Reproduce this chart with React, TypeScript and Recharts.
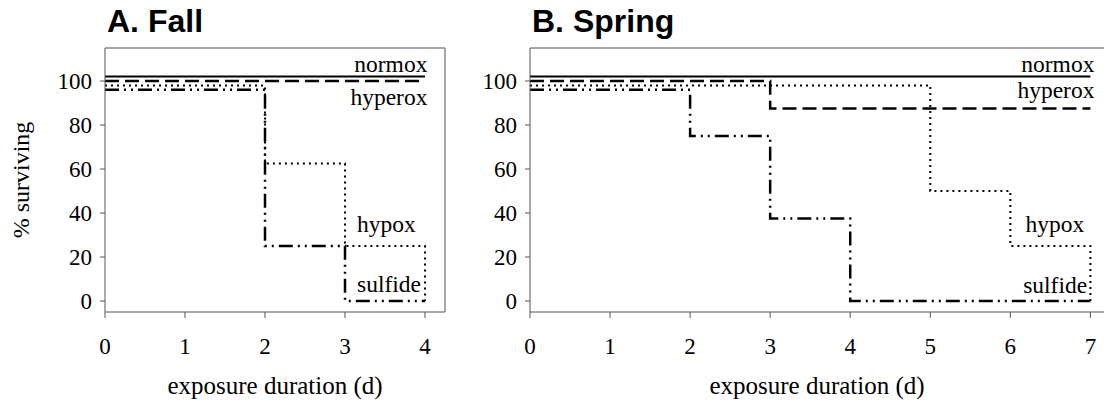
import { LineChart, Line, XAxis, YAxis, ReferenceLine, ReferenceDot } from "recharts";

// days of exposure
const fallDays = [0, 1, 2, 3, 4];
const springDays = [0, 1, 2, 3, 4, 5, 6, 7];

// % surviving, step values (top lines nudged apart so they stay visible)
const fallNormox = [102, 102, 102, 102, 102];
const fallHyperox = [100, 100, 100, 100, 100];
const fallHypox = [98, 98, 62.5, 25, 0];
const fallSulfide = [96, 96, 25, 0, 0];

const springNormox = [102, 102, 102, 102, 102, 102, 102, 102];
const springHyperox = [100, 100, 100, 87.5, 87.5, 87.5, 87.5, 87.5];
const springHypox = [98, 98, 98, 98, 98, 50, 25, 0];
const springSulfide = [96, 96, 75, 37.5, 0, 0, 0, 0];

const yTicks = [0, 20, 40, 60, 80, 100];
const fallTicks = [0, 1, 2, 3, 4];
const springTicks = [0, 1, 2, 3, 4, 5, 6, 7];

const SERIF = "Liberation Serif";
const AXIS = "#555";
const BOX = "#888";
const tickStyle = { fill: "#000", fontSize: 23, fontFamily: SERIF };
const axisTitle = { fill: "#000", fontSize: 25, fontFamily: SERIF };

const toRows = (days: number[], n: number[], h: number[], hy: number[], s: number[]) =>
  days.map((d, i) => ({ day: d, normox: n[i], hyperox: h[i], hypox: hy[i], sulfide: s[i] }));

const fallData = toRows(fallDays, fallNormox, fallHyperox, fallHypox, fallSulfide);
const springData = toRows(springDays, springNormox, springHyperox, springHypox, springSulfide);

const series = [
  { key: "normox", dash: undefined, width: 2 },
  { key: "hyperox", dash: "14 6", width: 2.5 },
  { key: "hypox", dash: "2 4", width: 2 },
  { key: "sulfide", dash: "14 5 2 5 2 5", width: 2.5 },
];

const seriesLines = () =>
  series.map((s) => (
    <Line
      key={s.key}
      type="stepAfter"
      dataKey={s.key}
      stroke="#000"
      strokeWidth={s.width}
      strokeDasharray={s.dash}
      dot={false}
      activeDot={false}
      isAnimationActive={false}
    />
  ));

const tag = (x: number, y: number, text: string, side: "left" | "right") => (
  <ReferenceDot
    key={text}
    x={x}
    y={y}
    r={0}
    fill="none"
    stroke="none"
    label={{ value: text, position: side, offset: 0, fill: "#000", fontSize: 23.5, fontFamily: SERIF }}
  />
);

const titleStyle = {
  position: "absolute" as const,
  top: 3,
  fontFamily: "'Liberation Sans', Arial, sans-serif",
  fontWeight: 700,
  fontSize: 32,
  color: "#000",
};

export default function App() {
  return (
    <div style={{ position: "absolute", left: 0, top: 0, width: 1105, height: 406, overflow: "hidden", background: "#fff" }}>
      <div style={{ ...titleStyle, left: 107 }}>A. Fall</div>
      <div style={{ ...titleStyle, left: 532 }}>B. Spring</div>

      <div style={{ position: "absolute", left: 0, top: 0 }}>
        <LineChart width={460} height={406} data={fallData} margin={{ top: 48, right: 15, bottom: 0, left: 10 }}>
          <XAxis
            dataKey="day"
            type="number"
            domain={[0, 4.25]}
            ticks={fallTicks}
            height={94}
            stroke={AXIS}
            tickSize={6}
            tickMargin={20}
            tick={tickStyle}
            label={{ value: "exposure duration (d)", position: "insideBottom", offset: 12, ...axisTitle }}
          />
          <YAxis
            type="number"
            domain={[-5, 115]}
            ticks={yTicks}
            width={95}
            stroke={AXIS}
            tickSize={5}
            tickMargin={8}
            tick={tickStyle}
            label={{ value: "% surviving", angle: -90, position: "insideLeft", offset: 10, fill: "#000", fontSize: 24, fontFamily: SERIF, style: { textAnchor: "middle" } }}
          />
          <ReferenceLine y={115} stroke={BOX} strokeWidth={1.5} />
          <ReferenceLine x={4.25} stroke={BOX} strokeWidth={1.5} />
          {seriesLines()}
          {tag(4.03, 107.7, "normox", "left")}
          {tag(4.03, 93, "hyperox", "left")}
          {tag(3.15, 35, "hypox", "right")}
          {tag(3.15, 7.7, "sulfide", "right")}
        </LineChart>
      </div>

      <div style={{ position: "absolute", left: 460, top: 0 }}>
        <LineChart width={645} height={406} data={springData} margin={{ top: 48, right: 1, bottom: 0, left: 0 }}>
          <XAxis
            dataKey="day"
            type="number"
            domain={[0, 7.17]}
            ticks={springTicks}
            height={94}
            stroke={AXIS}
            tickSize={6}
            tickMargin={20}
            tick={tickStyle}
            label={{ value: "exposure duration (d)", position: "insideBottom", offset: 12, ...axisTitle }}
          />
          <YAxis
            type="number"
            domain={[-5, 115]}
            ticks={yTicks}
            width={70}
            stroke={AXIS}
            tickSize={5}
            tickMargin={8}
            tick={tickStyle}
          />
          <ReferenceLine y={115} stroke={BOX} strokeWidth={1.5} />
          {seriesLines()}
          {tag(7.05, 107.7, "normox", "left")}
          {tag(7.05, 96, "hyperox", "left")}
          {tag(6.19, 35, "hypox", "right")}
          {tag(6.16, 7.3, "sulfide", "right")}
        </LineChart>
      </div>
    </div>
  );
}
